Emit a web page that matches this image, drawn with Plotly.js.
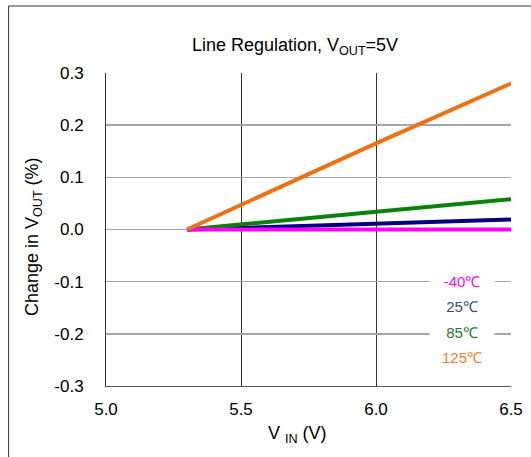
<!DOCTYPE html>
<html>
<head>
<meta charset="utf-8">
<script src="https://cdn.plot.ly/plotly-3.0.1.min.js"></script>
<style>
html,body{margin:0;padding:0;background:#fff;}
#chart{width:531px;height:457px;}
</style>
</head>
<body>
<div id="chart"></div>
<script>
// Data
var vin = [5.3, 5.5, 6.0, 6.5];
var seriesNames = ['-40\u2103', '25\u2103', '85\u2103', '125\u2103'];
var valsM40 = [0.000, 0.000, 0.000, 0.000];
var vals25  = [0.000, 0.003, 0.011, 0.019];
var vals85  = [0.000, 0.010, 0.034, 0.058];
var vals125 = [0.000, 0.047, 0.165, 0.280];
var xTicks = [5.0, 5.5, 6.0, 6.5];
var yTicks = [-0.3, -0.2, -0.1, 0.0, 0.1, 0.2, 0.3];
var titleText = 'Line Regulation, V<sub>OUT</sub>=5V';
var xTitleText = 'V <sub>IN</sub> (V)';
var yTitleText = 'Change in V<sub>OUT</sub> (%)';

var FONT = 'Liberation Sans, Arial, sans-serif';
var lineColors = ['#ff00ff', '#000080', '#0a820a', '#ec7214'];
var textColors = ['#ff00ff', '#2f4c80', '#1e7a1e', '#f27a28'];
var allVals = [valsM40, vals25, vals85, vals125];
var drawOrder = [1, 2, 0, 3];

var traces = drawOrder.map(function (i) {
  return {
    x: vin, y: allVals[i], name: seriesNames[i], type: 'scatter', mode: 'lines',
    line: {color: lineColors[i], width: 4}, showlegend: false, hoverinfo: 'skip'
  };
});

var legendX = 6.32;
var legendY0 = -0.1, legendStep = 0.0485;
var annotations = seriesNames.map(function (n, i) {
  return {
    x: legendX, y: legendY0 - i * legendStep, xref: 'x', yref: 'y',
    text: n, showarrow: false, bgcolor: '#ffffff', width: 62, align: 'center',
    font: {family: FONT, size: 15, color: textColors[i]}
  };
});
// axis titles placed as annotations (offset from the plot centre as in the reference)
annotations.push({
  x: (297 - 105.5) / 405.5, y: (386 - 434) / 313, xref: 'paper', yref: 'paper',
  xanchor: 'center', yanchor: 'middle', text: xTitleText, showarrow: false,
  font: {family: FONT, size: 18, color: '#000'}
});
annotations.push({
  x: (33.5 - 105.5) / 405.5, y: (386 - 237) / 313, xref: 'paper', yref: 'paper',
  xanchor: 'center', yanchor: 'middle', text: yTitleText, textangle: -90, showarrow: false,
  font: {family: FONT, size: 18, color: '#000'}
});

var layout = {
  width: 531, height: 457,
  margin: {l: 105.5, r: 20, t: 73, b: 71, pad: 0},
  paper_bgcolor: '#fff', plot_bgcolor: '#fff',
  font: {family: FONT, size: 17, color: '#000'},
  title: {
    text: titleText,
    xref: 'container', yref: 'container', x: 295 / 531, y: 1 - 45 / 457,
    xanchor: 'center', yanchor: 'middle',
    font: {family: FONT, size: 18, color: '#000'}
  },
  xaxis: {
    range: [5.0, 6.5], tickvals: xTicks, ticktext: xTicks.map(function (v) { return v.toFixed(1); }),
    showgrid: true, gridcolor: '#333', gridwidth: 1,
    showline: true, linecolor: '#555', linewidth: 1,
    zeroline: false, ticks: 'outside', ticklen: 8, tickcolor: 'rgba(0,0,0,0)',
    fixedrange: true
  },
  yaxis: {
    range: [-0.3, 0.3], tickvals: yTicks, ticktext: yTicks.map(function (v) { return v.toFixed(1); }),
    showgrid: true, gridcolor: '#a6a6a6', gridwidth: 1.5,
    showline: true, linecolor: '#333', linewidth: 1,
    zeroline: false, ticks: 'outside', ticklen: 18, tickcolor: 'rgba(0,0,0,0)',
    fixedrange: true
  },
  annotations: annotations,
  shapes: [
    {type: 'line', xref: 'paper', yref: 'paper', x0: (8 - 105.5) / 405.5, x1: (8 - 105.5) / 405.5,
     y0: (386 - 6) / 313, y1: -0.3, line: {color: '#333', width: 1}},
    {type: 'line', xref: 'paper', yref: 'paper', x0: (8 - 105.5) / 405.5, x1: 1.2,
     y0: (386 - 6) / 313, y1: (386 - 6) / 313, line: {color: '#333', width: 1}}
  ],
  showlegend: false
};

Plotly.newPlot('chart', traces, layout, {staticPlot: true, displayModeBar: false});
</script>
</body>
</html>
